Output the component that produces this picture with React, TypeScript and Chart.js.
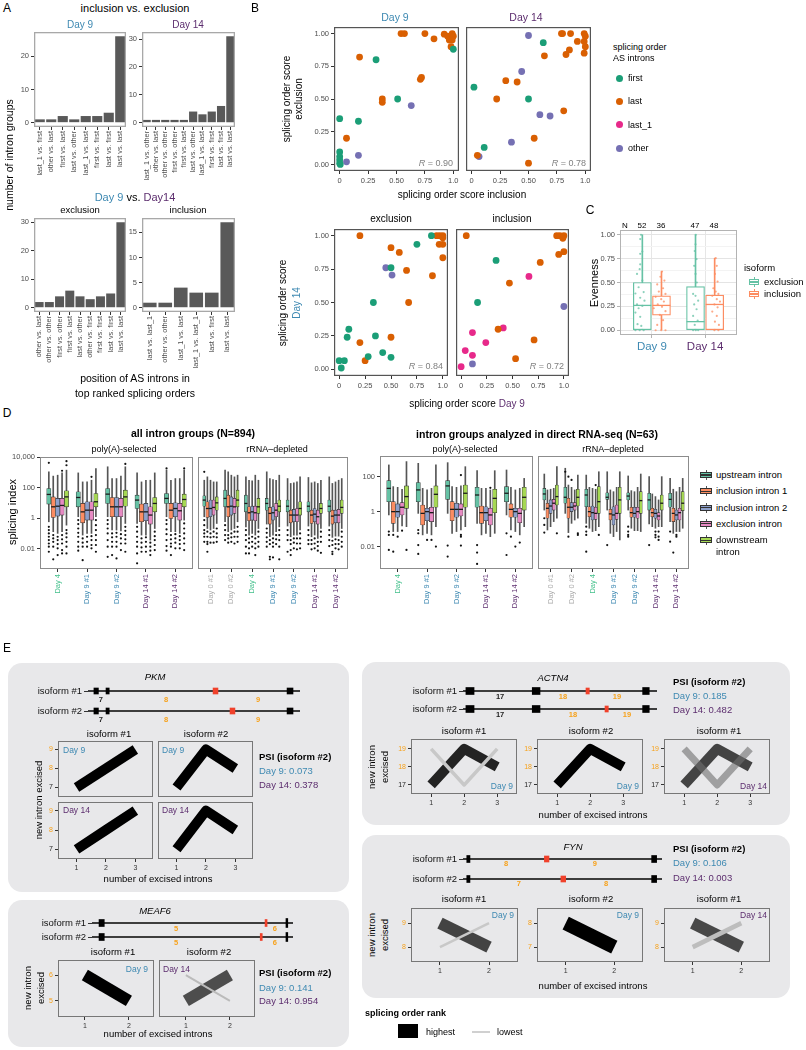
import React, { useEffect, useRef } from 'react';
import { Chart, registerables } from 'chart.js';

Chart.register(...registerables);

const FONT = '"Liberation Sans", Arial, Helvetica, sans-serif';
Chart.defaults.font.family = FONT;
Chart.defaults.color = '#4d4d4d';

const COL_D9 = '#3e89b2';
const COL_D14 = '#5c2d6e';
const COL_D4 = '#44c08c';
const COL_D0 = '#ababab';
const COL_NUM = '#f7a11a';
const COL_RED = '#f0412b';

// ================= Panel A =================
const aDay9Labels = ['last_1 vs. first', 'other vs. last', 'first vs. last', 'last vs. other', 'last_1 vs. last', 'first vs. first', 'last vs. first', 'last vs. last'];
const aDay9Counts = [1, 1, 2, 1, 2, 2, 3, 26];
const aDay14Labels = ['last_1 vs. other', 'other vs. last', 'other vs. other', 'first vs. other', 'first vs. last', 'last vs. other', 'last_1 vs. last', 'first vs. first', 'last vs. first', 'last vs. last'];
const aDay14Counts = [1, 1, 1, 1, 1, 4, 3, 4, 6, 31];
const aExclLabels = ['other vs. last', 'other vs. other', 'first vs. other', 'first vs. last', 'last vs. other', 'other vs. first', 'first vs. first', 'last vs. first', 'last vs. last'];
const aExclCounts = [2, 2, 4, 6, 4, 3, 4, 5, 30];
const aInclLabels = ['last vs. last_1', 'other vs. other', 'last_1 vs. last', 'last_1 vs. last_1', 'last vs. first', 'last vs. last'];
const aInclCounts = [1, 1, 4, 3, 3, 17];

// ================= Panel B =================
const bGroupNames = ['first', 'last', 'last_1', 'other'];
const bGroupColors = ['#1b9e77', '#d95f02', '#e7298a', '#7570b3'];
const bTicks = [0, 0.25, 0.5, 0.75, 1];
const bXTickLabels = ['0', '0.25', '0.50', '0.75', '1.0'];
const bYTickLabels = ['0.00', '0.25', '0.50', '0.75', '1.00'];

const bDay9First = [[1.0, 0.88], [0.32, 0.8], [0.51, 0.5], [0.165, 0.33], [0, 0.35], [0, 0.095], [0, 0.06], [0, 0.035], [0, 0.01], [0.005, 0.0]];
const bDay9Last = [[0.54, 1.0], [0.57, 1.0], [0.75, 1.0], [0.83, 0.96], [0.92, 0.995], [0.95, 0.98], [0.965, 0.95], [0.99, 1.0], [1.0, 0.98], [0.99, 0.95], [0.98, 0.9], [0.175, 0.82], [0.71, 0.65], [0.72, 0.665], [0.375, 0.5], [0.375, 0.475], [0.06, 0.2]];
const bDay9Other = [[0.63, 0.45], [0.165, 0.07], [0.06, 0.02]];

const bDay14First = [[0.63, 0.93], [0.02, 0.59], [0.5, 0.5], [0.11, 0.13]];
const bDay14Last = [[0.64, 0.83], [0.3, 0.64], [0.4, 0.63], [0.22, 0.5], [0.55, 0.2], [0.05, 0.07], [0.5, 0.01], [0.79, 1.0], [0.8, 1.0], [0.87, 1.0], [0.99, 1.0], [1.0, 0.98], [0.93, 0.94], [0.99, 0.94], [1.0, 0.9], [0.99, 0.85], [0.86, 0.875], [0.83, 0.84], [0.81, 0.41]];
const bDay14Other = [[0.5, 0.985], [0.44, 0.71], [0.6, 0.38], [0.69, 0.37], [0.35, 0.17], [0.065, 0.06]];

const bExclFirst = [[0.89, 1.0], [0.75, 0.935], [0.5, 0.76], [0.33, 0.5], [0.093, 0.3], [0.077, 0.24], [0.35, 0.25], [0.28, 0.095], [0.42, 0.125], [0.5, 0.09], [0, 0.065], [0.05, 0.065], [0.02, 0.01]];
const bExclLast = [[0.2, 1.0], [0.5, 0.91], [0.58, 0.875], [0.65, 0.74], [0.9, 0.7], [0.67, 0.5], [1.0, 0.835], [0.965, 0.935], [1.0, 0.935], [0.94, 1.0], [0.97, 1.0], [1.0, 1.0], [1.0, 0.985], [0.2, 0.2], [0.25, 0.065], [0.5, 0.24]];
const bExclOther = [[0.45, 0.76], [0.51, 0.705]];

const bInclFirst = [[0.34, 0.815], [0.16, 0.5]];
const bInclLast = [[0.05, 1.0], [0.77, 0.8], [0.47, 0.645], [0.36, 0.3], [0.71, 0.22], [0.53, 0.08], [0.93, 1.0], [0.96, 1.0], [1.0, 1.0], [0.99, 0.98], [0.95, 0.86], [1.0, 0.88]];
const bInclLast1 = [[0.66, 0.695], [0.41, 0.31], [0.11, 0.275], [0.24, 0.2], [0.04, 0.14], [0.11, 0.105], [0, 0.02]];
const bInclOther = [[0.11, 0.04], [1.0, 0.47]];

const bCorr = ['0.90', '0.78', '0.84', '0.72'];

// ================= Panel C =================
const cCategories = ['Day 9', 'Day 14'];
const cYTicks = [0, 0.25, 0.5, 0.75, 1];
const cYTickLabels = ['0.00', '0.25', '0.50', '0.75', '1.00'];
// [lower whisker, Q1, median, Q3, upper whisker] per day
const cExclStats = [[0, 0, 0.26, 0.5, 1.0], [0, 0, 0.09, 0.458, 1.0]];
const cInclStats = [[0, 0.157, 0.26, 0.36, 0.615], [0, 0, 0.27, 0.367, 0.755]];
const cExclN = [52, 47];
const cInclN = [36, 48];
// jittered points: [horizontal jitter, evenness]
const cExclJitterDay9 = [[-0.025, 1.0], [-0.04, 0.955], [0, 0.825], [-0.04, 0.8], [-0.04, 0.69], [-0.05, 0.64], [-0.1, 0.59], [0, 0.52], [-0.07, 0.45], [0.025, 0.4], [-0.13, 0.385], [-0.04, 0.34], [0.04, 0.31], [-0.1, 0.27], [0, 0.255], [-0.07, 0.23], [-0.13, 0.185], [-0.04, 0.14], [-0.09, 0.063], [-0.02, 0.045], [-0.05, 0], [-0.13, 0], [0.025, 0]];
const cExclJitterDay14 = [[0.005, 1.0], [0, 0.9], [-0.015, 0.83], [0.02, 0.745], [-0.025, 0.675], [0, 0.59], [0.025, 0.5], [-0.045, 0.38], [0, 0.36], [0.05, 0.31], [-0.025, 0.27], [0.02, 0.22], [-0.045, 0.15], [0.04, 0.1], [-0.015, 0.056], [0.005, 0], [-0.045, 0], [0.05, 0]];
const cInclJitterDay9 = [[0.01, 0.615], [-0.02, 0.56], [0.055, 0.52], [-0.08, 0.48], [0.03, 0.44], [-0.05, 0.405], [0.075, 0.38], [-0.11, 0.35], [-0.005, 0.325], [0.045, 0.3], [-0.07, 0.27], [0.01, 0.245], [-0.145, 0.23], [0.075, 0.2], [-0.03, 0.16], [0.03, 0.105], [-0.08, 0.056], [-0.005, 0], [-0.11, 0], [0.075, 0]];
const cInclJitterDay14 = [[0.02, 0.755], [0.04, 0.675], [0.005, 0.59], [0.055, 0.51], [-0.025, 0.44], [0.02, 0.405], [0.07, 0.38], [-0.045, 0.36], [0.04, 0.325], [0.1, 0.3], [-0.005, 0.27], [0.055, 0.24], [-0.045, 0.195], [0.04, 0.15], [0.005, 0.09], [0.08, 0.056], [-0.005, 0], [0.07, 0]];

// ================= Panel D =================
// values in log10(splicing index); per group: [lower whisker, Q1, median, Q3, upper whisker]
const dIntronTypes = ['upstream intron', 'inclusion intron 1', 'inclusion intron 2', 'exclusion intron', 'downstream intron'];
const dTypeColors = ['#66c2a5', '#fc8d62', '#8da0cb', '#e78ac3', '#a6d854'];
const dPolySamples = ['Day 4', 'Day 9 #1', 'Day 9 #2', 'Day 14 #1', 'Day 14 #2'];
const dRiboSamples = ['Day 0 #1', 'Day 0 #2', 'Day 4', 'Day 9 #1', 'Day 9 #2', 'Day 14 #1', 'Day 14 #2'];
const dYTicksAll = [-2, 0, 2, 4];
const dYLabelsAll = ['0.01', '1', '100', '10,000'];
const dYTicksDrs = [-2, 0, 2];
const dYLabelsDrs = ['0.01', '1', '100'];

const dAllPolyUp = [[-0.24, 0.92, 1.55, 1.94, 3.03], [0.09, 0.74, 1.35, 1.72, 2.96], [0.09, 0.96, 1.57, 1.94, 3.36], [-0.35, 0.63, 1.18, 1.5, 2.96], [0.09, 0.96, 1.29, 1.61, 3.14]];
const dAllPolyUpOut = [[3.62, -0.57, -0.78, -1.0, -1.22, -1.44, -1.66, -1.87, -2.2], [-0.13, -0.39, -0.68, -0.96, -1.22, -1.55, -1.87, -2.13], [-0.13, -0.39, -0.68, -1.0, -1.44, -1.87, -2.53], [-0.57, -0.89, -1.22, -1.55, -1.87, -2.31, -2.96], [3.25, -0.13, -0.39, -0.74, -1.05, -1.44, -1.83, -2.13]];
const dAllPolyIn1 = [[-0.89, 0.04, 0.74, 1.39, 2.75], [-1.11, -0.31, 0.41, 0.96, 2.37], [-0.78, 0.09, 0.74, 1.35, 2.59], [-1.11, -0.24, 0.41, 0.92, 2.37], [-0.89, -0.02, 0.52, 0.96, 2.48]];
const dAllPolyIn1Out = [[-1.11, -1.33, -1.55, -1.87, -2.7], [-1.33, -1.61, -1.87, -2.75], [-1.0, -1.26, -1.55, -1.87, -2.42], [-1.33, -1.61, -1.92, -2.2], [-1.11, -1.39, -1.66, -1.87, -2.42]];
const dAllPolyIn2 = [[-1.0, 0.13, 0.78, 1.29, 2.81], [-1.0, -0.13, 0.52, 1.07, 2.37], [-0.78, 0.09, 0.74, 1.35, 2.59], [-1.11, -0.17, 0.41, 0.96, 2.48], [-0.89, 0.09, 0.63, 1.0, 2.59]];
const dAllPolyIn2Out = [[-1.22, -1.44, -1.7, -1.98, -2.42], [-1.22, -1.55, -1.87], [-0.96, -1.22, -1.55, -1.87, -2.64], [-1.26, -1.55, -1.87, -2.2], [-1.05, -1.33, -1.61, -1.98]];
const dAllPolyEx = [[-0.89, 0.2, 0.83, 1.29, 2.96], [-1.0, -0.13, 0.52, 1.07, 2.48], [-0.83, 0.09, 0.74, 1.29, 2.75], [-1.44, -0.39, 0.2, 0.74, 2.48], [-1.0, -0.13, 0.48, 0.96, 2.59]];
const dAllPolyExOut = [[3.1, -1.11, -1.39, -1.66, -2.09, -2.31], [2.7, -1.18, -1.44, -1.76, -1.98], [-1.05, -1.33, -1.66, -2.09], [-1.61, -1.87, -2.13, -2.42], [-1.18, -1.44, -1.7, -1.98]];
const dAllPolyDn = [[-0.46, 0.74, 1.39, 1.79, 3.14], [0.09, 0.74, 1.07, 1.61, 3.25], [-0.35, 0.78, 1.39, 1.83, 3.36], [-0.68, 0.41, 0.96, 1.35, 2.96], [-0.13, 0.74, 1.22, 1.57, 3.14]];
const dAllPolyDnOut = [[3.73, 3.46, -0.78, -1.0, -1.26, -1.55, -1.87, -2.31], [-0.13, -0.46, -0.78, -1.11, -1.44, -1.76, -2.2], [3.55, -0.57, -0.83, -1.11, -1.39, -1.66, -2.2], [-0.89, -1.18, -1.44, -1.76, -2.09], [3.25, -0.35, -0.68, -1.0, -1.33, -1.66, -2.09]];

const dAllRiboUp = [[0.09, 0.78, 1.18, 1.46, 2.48], [-0.24, 0.74, 1.29, 1.83, 3.14], [-0.57, 0.41, 0.96, 1.5, 2.7], [-0.39, 0.52, 0.96, 1.29, 3.03], [-0.52, 0.41, 0.78, 1.18, 2.59], [-0.52, 0.41, 0.78, 1.07, 2.66], [-0.52, 0.41, 0.78, 1.18, 2.7]];
const dAllRiboUpOut = [[3.03, -0.13, -0.46, -0.78, -1.0, -1.22, -1.55], [-0.46, -0.78, -1.11, -1.44], [-0.78, -1.11, -1.44, -1.87, -2.31], [-0.68, -0.96, -1.26, -1.55, -1.87], [-0.78, -1.11, -1.44, -2.2], [-0.78, -1.11, -1.44, -1.7], [-0.78, -1.11, -1.44, -1.83]];
const dAllRiboIn1 = [[-0.68, 0.04, 0.63, 1.07, 2.7], [-0.89, 0.09, 0.74, 1.5, 3.03], [-1.11, -0.17, 0.35, 0.74, 2.48], [-1.22, -0.39, 0.31, 0.7, 2.59], [-1.22, -0.31, 0.2, 0.52, 2.27], [-1.22, -0.35, 0.2, 0.52, 2.31], [-1.26, -0.39, 0.13, 0.52, 2.27]];
const dAllRiboIn1Out = [[-0.89, -1.22, -1.55, -1.7, -2.2], [-1.11, -1.33, -1.61], [-1.33, -1.61, -1.98, -2.31], [-1.44, -1.7, -2.53, -2.7], [-1.44, -1.7, -2.09, -2.42], [-1.44, -1.7, -2.04], [-1.48, -1.76, -2.2, -2.35]];
const dAllRiboIn2 = [[-0.78, 0.09, 0.63, 1.18, 2.48], [-0.78, 0.2, 0.78, 1.39, 2.81], [-1.0, -0.13, 0.41, 0.78, 2.44], [-1.11, -0.13, 0.35, 0.74, 2.53], [-1.11, -0.24, 0.2, 0.57, 2.31], [-1.11, -0.24, 0.26, 0.63, 2.37], [-1.18, -0.31, 0.2, 0.52, 2.37]];
const dAllRiboIn2Out = [[-1.0, -1.26, -1.61], [-1.0, -1.26, -1.55], [-1.22, -1.55, -1.87], [-1.33, -1.61, -1.87, -2.57], [-1.33, -1.61, -1.98], [-1.33, -1.66, -1.98], [-1.39, -1.7, -1.98]];
const dAllRiboEx = [[-0.68, 0.2, 0.7, 1.18, 2.37], [-0.68, 0.31, 0.74, 1.29, 2.7], [-1.11, -0.17, 0.35, 0.78, 2.81], [-0.89, 0.09, 0.52, 0.96, 2.48], [-1.11, -0.24, 0.2, 0.63, 2.37], [-1.33, -0.39, 0.09, 0.52, 2.27], [-1.18, -0.31, 0.2, 0.57, 2.48]];
const dAllRiboExOut = [[-0.89, -1.22, -1.61], [-0.89, -1.22, -1.66], [-1.33, -1.66, -1.98, -2.42], [-1.11, -1.39, -1.7], [-1.33, -1.66, -2.04], [-1.55, -1.83, -2.13], [-1.44, -1.7, -2.04]];
const dAllRiboDn = [[-0.35, 0.52, 1.0, 1.39, 2.37], [-0.24, 0.74, 1.18, 1.83, 2.81], [-0.68, 0.31, 0.74, 1.29, 2.48], [-0.57, 0.41, 0.78, 1.18, 2.81], [-0.78, 0.2, 0.63, 1.07, 2.7], [-0.68, 0.31, 0.63, 0.96, 2.48], [-0.68, 0.31, 0.7, 1.18, 2.59]];
const dAllRiboDnOut = [[-0.68, -1.0, -1.26, -1.55], [-0.57, -0.89, -1.22, -1.55], [-0.89, -1.22, -1.55, -1.87], [-0.78, -1.11, -1.44, -1.87, -2.7], [-1.0, -1.33, -1.66, -1.98], [-0.89, -1.22, -1.55, -2.27], [-0.89, -1.22, -1.55, -1.87]];

const dDrsPolyUp = [[-0.17, 0.59, 1.35, 1.79, 2.69], [-0.08, 0.59, 1.26, 1.68, 2.78], [-0.08, 0.72, 1.49, 1.79, 2.82], [-0.65, 0.27, 0.97, 1.41, 2.36], [-0.17, 0.59, 1.07, 1.45, 2.4]];
const dDrsPolyUpOut = [[-1.12, -1.31, -2.17], [-1.03, -1.22, -1.89, -2.4], [-1.92, -2.55], [-1.89, -2.32, -2.97], [-1.22, -2.46]];
const dDrsPolyIn1 = [[-1.12, -0.65, 0.02, 0.59, 1.45], [-1.31, -0.74, -0.08, 0.4, 1.35], [-1.22, -0.5, 0.15, 0.59, 1.45], [-1.31, -0.65, -0.04, 0.34, 1.35], [-1.03, -0.3, 0.15, 0.46, 1.41]];
const dDrsPolyIn1Out = [[-1.31, -2.27], [], [], [], [-1.41]];
const dDrsPolyIn2 = [[-1.12, -0.3, 0.02, 0.46, 1.41], [-1.22, -0.5, 0.02, 0.21, 1.26], [-1.12, -0.3, 0.15, 0.5, 1.41], [-1.22, -0.5, -0.04, 0.3, 1.35], [-1.12, -0.3, 0.02, 0.21, 1.26]];
const dDrsPolyIn2Out = [[-1.41], [-1.6], [], [], [-1.98]];
const dDrsPolyEx = [[-0.8, -0.17, 0.27, 0.53, 1.3], [-1.31, -0.55, -0.04, 0.27, 1.35], [-1.03, -0.23, 0.15, 0.46, 1.49], [-1.41, -0.74, -0.17, 0.21, 1.26], [-1.31, -0.61, -0.08, 0.21, 1.35]];
const dDrsPolyExOut = [[-1.07], [-1.6], [2.11, -1.31, -1.41, -1.92], [1.38], [-1.75]];
const dDrsPolyDn = [[-0.84, 0.21, 0.88, 1.49, 2.88], [-0.84, 0.27, 1.01, 1.49, 2.69], [-0.84, 0.27, 1.07, 1.54, 2.59], [-1.22, -0.04, 0.78, 1.3, 2.36], [-0.84, 0.11, 0.84, 1.41, 1.92]];
const dDrsPolyDnOut = [[-2.17], [-1.98], [], [], []];

const dDrsRiboUp = [[0.11, 0.69, 1.03, 1.35, 2.17], [-0.08, 0.5, 0.84, 1.41, 2.5], [-0.65, 0.3, 0.97, 1.3, 2.11], [0.11, 0.72, 0.84, 1.1, 2.3], [0.11, 0.69, 0.91, 1.1, 2.06], [-0.69, 0.11, 0.69, 1.07, 2.02], [-0.55, 0.27, 0.72, 1.07, 1.92]];
const dDrsRiboUpOut = [[-0.36, -0.74, -1.18], [2.3], [-0.84, -1.12, -1.31, -2.27], [-1.89], [-0.84, -1.12, -1.31, -1.41], [-1.89], [-1.12, -1.7]];
const dDrsRiboIn1 = [[-1.03, -0.36, 0.21, 0.5, 1.26], [-1.18, -0.36, 0.27, 0.78, 1.54], [-0.93, -0.27, 0.02, 0.3, 1.41], [-1.22, -0.46, -0.11, 0.15, 1.26], [-0.93, -0.3, -0.04, 0.27, 1.22], [-0.84, -0.27, -0.04, 0.21, 1.03], [-1.22, -0.55, -0.08, 0.21, 1.3]];
const dDrsRiboIn1Out = [[], [2.02, -1.41], [], [], [], [], [-2.32]];
const dDrsRiboIn2 = [[-0.84, -0.08, 0.34, 0.69, 1.3], [-0.65, 0.02, 0.27, 0.53, 1.41], [-1.12, -0.46, -0.04, 0.34, 1.35], [-1.41, -0.74, -0.17, 0.3, 1.16], [-1.07, -0.3, -0.08, 0.27, 1.16], [-0.93, -0.36, -0.08, 0.15, 0.88], [-1.12, -0.46, -0.17, 0.11, 1.16]];
const dDrsRiboIn2Out = [[], [1.83], [], [], [], [-1.12, -1.31, -1.45], [-1.31, -1.41]];
const dDrsRiboEx = [[-0.55, 0.11, 0.5, 0.72, 1.35], [-0.46, 0.11, 0.34, 0.53, 1.26], [-1.07, -0.42, -0.08, 0.27, 1.3], [-1.12, -0.42, -0.08, 0.4, 1.41], [-1.07, -0.36, 0.02, 0.27, 1.41], [-0.84, -0.46, -0.23, -0.04, 0.69], [-1.12, -0.46, -0.04, 0.21, 1.41]];
const dDrsRiboExOut = [[], [], [1.54], [], [], [-1.12, -1.41, -1.6], []];
const dDrsRiboDn = [[-0.36, 0.4, 0.88, 1.54, 2.59], [-0.36, 0.34, 0.84, 1.3, 2.11], [-0.84, -0.08, 0.59, 1.45, 2.3], [-1.6, -0.08, 0.69, 1.41, 2.3], [-1.12, -0.08, 0.65, 1.16, 2.17], [-0.84, 0.11, 0.5, 0.97, 2.02], [-0.93, 0.08, 0.5, 1.16, 1.92]];
const dDrsRiboDnOut = [[-1.22], [-1.22, -1.31], [-1.31], [], [], [], []];

// ================= Panel E =================
const isoRows = ['isoform #1', 'isoform #2'];
const geneSpan = [0, 100];
// exon coordinates (relative gene units)
const pkmExons = [[2.8, 4.9], [8.5, 10.0], [93.9, 96.7]];
const pkmAltExon = [[59.0, 61.3], [67.0, 69.3]];
const pkmIntronLabels = [[6.1, 0, '7'], [36.8, 0, '8'], [80.2, 0, '9'], [6.1, 1, '7'], [36.8, 1, '8'], [80.2, 1, '9']];
const actn4Exons = [[1.5, 5.7], [35.7, 39.7], [92.6, 96.0]];
const actn4AltExon = [[63.4, 65.1], [73.2, 74.9]];
const actn4IntronLabels = [[19.1, 0, '17'], [51.5, 0, '18'], [79.4, 0, '19'], [19.1, 1, '17'], [56.7, 1, '18'], [84.5, 1, '19']];
const fynExons = [[1.9, 3.5], [94.8, 97.3]];
const fynAltExon = [[40.9, 43.2], [49.2, 51.6]];
const fynIntronLabels = [[21.6, 0, '8'], [66.3, 0, '9'], [28.1, 1, '7'], [71.9, 1, '8']];
const meaf6Exons = [[3.5, 6.1]];
const meaf6EndExon = [[96.5, 97.4]];
const meaf6AltExon = [[86.1, 87.1], [83.7, 84.7]];
const meaf6IntronLabels = [[41.8, 0, '5'], [91.0, 0, '6'], [41.8, 1, '5'], [91.0, 1, '6']];

// splicing order paths: [number of excised introns, new intron excised]
const pkmIso1Path = [[1, 7], [2, 8], [3, 9]];
const pkmIso2Path = [[1, 7], [2, 9], [3, 8]];
const actn4Iso1Top = [[1, 17], [2, 19], [3, 18]];
const actn4Iso1Low = [[1, 19], [2, 17], [3, 19]];
const actn4Iso2Top = [[1, 17], [2, 19], [3, 18]];
const fynIso1Top = [[1, 9], [2, 8]];
const fynIso1Low = [[1, 8], [2, 9]];
const fynIso2Top = [[1, 8], [2, 7]];
const meaf6Iso1Top = [[1, 6], [2, 5]];
const meaf6Iso2Top = [[1, 5], [2, 6]];
const meaf6Iso2Low = [[1, 6], [2, 5]];

const pkmPsi = [0.073, 0.378];
const actn4Psi = [0.185, 0.482];
const fynPsi = [0.106, 0.003];
const meaf6Psi = [0.141, 0.954];

// ================= helpers =================
function sampleColor(name: string) {
  if (name.startsWith('Day 0')) return COL_D0;
  if (name.startsWith('Day 4')) return COL_D4;
  if (name.startsWith('Day 9')) return COL_D9;
  return COL_D14;
}

function frame(color: string, lw = 1) {
  return {
    id: 'frame',
    afterDraw(chart: any) {
      const { left, top, width, height } = chart.chartArea;
      const ctx = chart.ctx;
      ctx.save();
      ctx.strokeStyle = color;
      ctx.lineWidth = lw;
      ctx.strokeRect(left + lw / 2, top + lw / 2, width - lw, height - lw);
      ctx.restore();
    },
  };
}

function medianPlugin(color: string | null, lw: number) {
  return {
    id: 'median',
    afterDatasetsDraw(chart: any) {
      const ctx = chart.ctx;
      const ys = chart.scales.y;
      chart.data.datasets.forEach((ds: any, i: number) => {
        if (!ds.med) return;
        const meta = chart.getDatasetMeta(i);
        meta.data.forEach((el: any, j: number) => {
          const y = ys.getPixelForValue(ds.med[j]);
          ctx.save();
          ctx.strokeStyle = color || ds.borderColor;
          ctx.lineWidth = lw;
          ctx.beginPath();
          ctx.moveTo(el.x - el.width / 2, y);
          ctx.lineTo(el.x + el.width / 2, y);
          ctx.stroke();
          ctx.restore();
        });
      });
    },
  };
}

function intronLabels(items: any[], hi: string[], dy: number) {
  return {
    id: 'intronLabels',
    afterDatasetsDraw(chart: any) {
      const ctx = chart.ctx;
      const xs = chart.scales.x;
      const ys = chart.scales.y;
      ctx.save();
      ctx.font = `bold 7.5px ${FONT}`;
      ctx.textAlign = 'center';
      ctx.textBaseline = 'middle';
      items.forEach(([pos, row, txt]: any) => {
        ctx.fillStyle = hi.includes(txt) ? COL_NUM : '#222';
        ctx.fillText(txt, xs.getPixelForValue(pos), ys.getPixelForValue(row) + dy);
      });
      ctx.restore();
    },
  };
}

function linAxis(min: number, max: number, vals: number[], labels: string[], o: any = {}) {
  const show = o.show !== false;
  const marks = o.marks !== false;
  return {
    type: 'linear',
    min,
    max,
    offset: false,
    afterBuildTicks: (s: any) => {
      s.ticks = vals.map((v) => ({ value: v }));
    },
    grid: o.grid ?? { display: marks, offset: false, drawOnChartArea: false, drawTicks: true, tickLength: 3, color: '#333', lineWidth: 1 },
    border: { display: false },
    ticks: {
      display: show,
      autoSkip: false,
      callback: (_v: any, i: number) => labels[i],
      font: { family: FONT, size: o.size ?? 7.5 },
      color: o.color ?? '#4d4d4d',
      padding: o.pad ?? 2,
      minRotation: o.rot ?? 0,
      maxRotation: o.rot ?? 0,
    },
  };
}

function Plot({ a, make }: any) {
  const ref = useRef<HTMLCanvasElement | null>(null);
  const t = a.t ?? 6;
  const r = a.r ?? 8;
  const W = a.l + a.w + r;
  const H = t + a.h + a.b;
  useEffect(() => {
    const cfg = make();
    const o = cfg.options || (cfg.options = {});
    Object.assign(o, { responsive: false, maintainAspectRatio: false, animation: false, devicePixelRatio: 1, events: [] });
    o.layout = { padding: { top: t, right: r, left: 0, bottom: 0 } };
    o.plugins = { ...(o.plugins || {}), legend: { display: false }, tooltip: { enabled: false } };
    o.scales.x.afterFit = (s: any) => {
      s.height = a.b;
      s.paddingLeft = 0;
      s.paddingRight = 0;
    };
    o.scales.y.afterFit = (s: any) => {
      s.width = a.l;
      s.paddingTop = 0;
      s.paddingBottom = 0;
    };
    const chart = new Chart(ref.current as HTMLCanvasElement, cfg);
    return () => chart.destroy();
  }, []);
  return <canvas ref={ref} width={W} height={H} style={{ position: 'absolute', left: a.x - a.l, top: a.y - t, width: W, height: H }} />;
}

function Tx(p: any) {
  const { x, y, s = 9, c = '#000', w = 400, it = false, a = 'c', rot = false, children } = p;
  const tx = rot ? '-50%' : a === 'c' ? '-50%' : a === 'r' ? '-100%' : '0%';
  return (
    <div
      style={{
        position: 'absolute',
        left: x,
        top: y,
        transform: `translate(${tx}, -50%)${rot ? ' rotate(-90deg)' : ''}`,
        fontSize: s,
        color: c,
        fontWeight: w,
        fontStyle: it ? 'italic' : 'normal',
        whiteSpace: 'nowrap',
        lineHeight: 1,
        fontFamily: FONT,
      }}
    >
      {children}
    </div>
  );
}

// ----- chart configs -----
function aBarCfg(labels: string[], counts: number[], min: number, max: number, ticks: number[]) {
  return {
    type: 'bar',
    data: { labels, datasets: [{ data: counts, backgroundColor: '#595959', categoryPercentage: 1, barPercentage: 0.88 }] },
    options: {
      scales: {
        x: {
          type: 'category',
          offset: true,
          grid: { display: true, offset: false, drawOnChartArea: false, tickLength: 3, color: '#333' },
          border: { display: false },
          ticks: { autoSkip: false, minRotation: 90, maxRotation: 90, font: { family: FONT, size: 7.3 }, color: '#4d4d4d', padding: 1 },
        },
        y: linAxis(min, max, ticks, ticks.map(String), {}),
      },
    },
    plugins: [frame('#a8a8a8', 1.3)],
  };
}

function bCfg(groups: any[], showY: boolean) {
  return {
    type: 'scatter',
    data: {
      datasets: groups.map((g: any) => ({
        data: g.pts.map(([x, y]: number[]) => ({ x, y })),
        backgroundColor: bGroupColors[g.k],
        pointRadius: 3.4,
        borderWidth: 0,
      })),
    },
    options: {
      scales: {
        x: linAxis(-0.05, 1.05, bTicks, bXTickLabels, {}),
        y: linAxis(-0.05, 1.05, bTicks, bYTickLabels, { show: showY, marks: showY }),
      },
    },
    plugins: [frame('#555', 1.2)],
  };
}

function cCfg() {
  const groups = [
    { st: cExclStats, jit: [cExclJitterDay9, cExclJitterDay14], color: '#66c2a5', rgba: 'rgba(102,194,165,0.75)', dodge: -0.18 },
    { st: cInclStats, jit: [cInclJitterDay9, cInclJitterDay14], color: '#fc8d62', rgba: 'rgba(252,141,98,0.75)', dodge: 0.18 },
  ];
  const ds: any[] = [];
  groups.forEach((g) => {
    ds.push({ type: 'bar', data: g.st.map((s, i) => ({ x: i + 1 + g.dodge, y: [s[0], s[4]] })), backgroundColor: g.color, barThickness: 1, grouped: false, order: 3 });
    ds.push({ type: 'bar', data: g.st.map((s, i) => ({ x: i + 1 + g.dodge, y: [s[1], s[3]] })), backgroundColor: '#ffffff', borderColor: g.color, borderWidth: 1.2, borderSkipped: false, barThickness: 18, grouped: false, order: 2, med: g.st.map((s) => s[2]) });
    ds.push({ type: 'scatter', data: g.jit.flatMap((arr, i) => arr.map(([dx, v]) => ({ x: i + 1 + g.dodge + dx, y: v }))), backgroundColor: g.rgba, pointRadius: 1.1, borderWidth: 0, order: 1 });
  });
  const yVals: number[] = [];
  const yLabels: string[] = [];
  cYTicks.forEach((v, i) => {
    yVals.push(v);
    yLabels.push(cYTickLabels[i]);
    if (i < cYTicks.length - 1) {
      yVals.push((v + cYTicks[i + 1]) / 2);
      yLabels.push('');
    }
  });
  return {
    type: 'bar',
    data: { datasets: ds },
    options: {
      scales: {
        x: linAxis(0.4, 2.6, [1, 2], cCategories, {
          size: 11.5,
          color: (c: any) => (c.index === 0 ? COL_D9 : COL_D14),
          grid: { display: true, offset: false, drawOnChartArea: true, color: '#e6e6e6', tickColor: '#b3b3b3', tickLength: 3 },
        }),
        y: linAxis(-0.05, 1.05, yVals, yLabels, {
          grid: {
            display: true,
            offset: false,
            drawOnChartArea: true,
            tickLength: 3,
            color: (c: any) => (c.index % 2 ? '#f3f3f3' : '#e4e4e4'),
            tickColor: (c: any) => (c.index % 2 ? 'rgba(0,0,0,0)' : '#b3b3b3'),
          },
        }),
      },
    },
    plugins: [medianPlugin(null, 1.3), frame('#b3b3b3', 1)],
  };
}

const dDodge = [-0.3, -0.15, 0, 0.15, 0.3];
function dCfg(stats: number[][][], outs: number[][][], samples: string[], yMin: number, yMax: number, yVals: number[], yLabels: string[], showY: boolean, boxPx: number) {
  const ds: any[] = [];
  stats.forEach((st, t) => {
    const xs = st.map((_, g) => g + 1 + dDodge[t]);
    ds.push({ type: 'bar', data: st.map((s, g) => ({ x: xs[g], y: [s[0], s[4]] })), backgroundColor: '#555', barThickness: 1, grouped: false, order: 3 });
    ds.push({ type: 'bar', data: st.map((s, g) => ({ x: xs[g], y: [s[1], s[3]] })), backgroundColor: dTypeColors[t], borderColor: '#333', borderWidth: 0.6, borderSkipped: false, barThickness: boxPx, grouped: false, order: 2, med: st.map((s) => s[2]) });
    ds.push({ type: 'scatter', data: outs[t].flatMap((arr, g) => arr.map((v) => ({ x: xs[g], y: v }))), backgroundColor: '#111', pointRadius: 1.1, borderWidth: 0, order: 1 });
  });
  const n = samples.length;
  return {
    type: 'bar',
    data: { datasets: ds },
    options: {
      scales: {
        x: linAxis(0.4, n + 0.6, samples.map((_, i) => i + 1), samples, { rot: 90, size: 7.5, color: (c: any) => sampleColor(samples[c.index]) }),
        y: linAxis(yMin, yMax, yVals, yLabels, { show: showY, marks: showY }),
      },
    },
    plugins: [medianPlugin('#1a1a1a', 1.3), frame('#8c8c8c', 1)],
  };
}

function geneCfg(tracks: any[], introns: any[], hi: string[], dy: number) {
  return {
    type: 'bar',
    data: {
      labels: isoRows,
      datasets: tracks.map((t, i) => ({ data: t.data, backgroundColor: t.color, barThickness: t.h, grouped: false, order: tracks.length - i })),
    },
    options: {
      indexAxis: 'y',
      scales: {
        x: { type: 'linear', min: geneSpan[0], max: geneSpan[1], offset: false, grid: { display: false }, border: { display: false }, ticks: { display: false } },
        y: {
          type: 'category',
          offset: true,
          grid: { display: true, offset: false, drawOnChartArea: false, tickLength: 4, color: '#333' },
          border: { display: false },
          ticks: { autoSkip: false, color: '#111', font: { family: FONT, size: 9.5 }, padding: 2 },
        },
      },
    },
    plugins: [intronLabels(introns, hi, dy)],
  };
}

function geneTracks(exons: number[][], alt: number[][], exH: number, altH: number, extra: any[] = []) {
  return [
    { data: isoRows.map(() => geneSpan), color: '#3d3d3d', h: 1.3 },
    ...exons.map((ex) => ({ data: isoRows.map(() => ex), color: '#000', h: exH })),
    ...extra,
    { data: alt, color: COL_RED, h: altH },
  ];
}

function pathCfg(lines: any[], xr: number[], yr: number[], xt: number[], yt: number[], yCols: string[], showX: boolean, showY: boolean) {
  return {
    type: 'line',
    data: {
      datasets: lines.map((l) => ({
        data: l.pts.map(([x, y]: number[]) => ({ x, y })),
        borderColor: l.color,
        borderWidth: l.w,
        pointRadius: 0,
        borderCapStyle: 'butt',
        borderJoinStyle: 'round',
        tension: 0,
        fill: false,
        clip: 0,
      })),
    },
    options: {
      scales: {
        x: linAxis(xr[0], xr[1], xt, xt.map(String), { show: showX, marks: showX, color: '#333', size: 7 }),
        y: linAxis(yr[0], yr[1], yt, yt.map(String), { show: showY, marks: showY, color: (c: any) => yCols[c.index], size: 7 }),
      },
    },
    plugins: [frame('#777', 1)],
  };
}

const card = (x: number, y: number, w: number, h: number): any => ({ position: 'absolute', left: x, top: y, width: w, height: h, background: '#e8e8ea', borderRadius: 14 });

function Dot({ x, y, c }: any) {
  return <div style={{ position: 'absolute', left: x - 3.5, top: y - 3.5, width: 7, height: 7, borderRadius: '50%', background: c }} />;
}

function BoxKey({ x, y, w, h, fill, stroke, whisk }: any) {
  return (
    <div style={{ position: 'absolute', left: x, top: y - h / 2, width: w, height: h }}>
      <div style={{ position: 'absolute', left: w / 2 - 0.5, top: 0, width: 1, height: h, background: whisk }} />
      <div style={{ position: 'absolute', left: 0, top: h * 0.2, width: w, height: h * 0.6, boxSizing: 'border-box', border: `1px solid ${stroke}`, background: fill }} />
      <div style={{ position: 'absolute', left: 0, top: h / 2 - 0.6, width: w, height: 1.2, background: stroke }} />
    </div>
  );
}

const O = COL_NUM;
const K = '#222';

export default function App() {
  const aArea = (x: number, y: number, w: number, h: number, l: number, b: number) => ({ x, y, w, h, l, b });
  return (
    <div style={{ position: 'absolute', left: 0, top: 0, width: 806, height: 1050, background: '#fff', overflow: 'hidden', fontFamily: FONT }}>
      {/* E cards */}
      <div style={card(8, 663, 341, 229)} />
      <div style={card(8, 900, 341, 147)} />
      <div style={card(362, 662, 428, 163)} />
      <div style={card(362, 835, 428, 163)} />

      {/* ===== A ===== */}
      <Plot a={aArea(34, 32, 92, 95, 22, 66)} make={() => aBarCfg(aDay9Labels, aDay9Counts, -1.3, 27.3, [0, 10, 20])} />
      <Plot a={aArea(142, 32, 93, 95, 16, 66)} make={() => aBarCfg(aDay14Labels, aDay14Counts, -1.55, 32.55, [0, 10, 20, 30])} />
      <Plot a={aArea(34, 218, 92, 94, 22, 58)} make={() => aBarCfg(aExclLabels, aExclCounts, -1.5, 31.5, [0, 10, 20, 30])} />
      <Plot a={aArea(142, 218, 93, 94, 16, 58)} make={() => aBarCfg(aInclLabels, aInclCounts, -0.85, 17.85, [0, 5, 10, 15])} />

      {/* ===== B ===== */}
      <Plot a={{ x: 334, y: 27, w: 125, h: 144, l: 38, b: 14 }} make={() => bCfg([{ k: 0, pts: bDay9First }, { k: 1, pts: bDay9Last }, { k: 3, pts: bDay9Other }], true)} />
      <Plot a={{ x: 466, y: 27, w: 125, h: 144, l: 4, b: 14 }} make={() => bCfg([{ k: 0, pts: bDay14First }, { k: 1, pts: bDay14Last }, { k: 3, pts: bDay14Other }], false)} />
      <Plot a={{ x: 334, y: 229, w: 114, h: 147, l: 38, b: 14 }} make={() => bCfg([{ k: 0, pts: bExclFirst }, { k: 1, pts: bExclLast }, { k: 3, pts: bExclOther }], true)} />
      <Plot a={{ x: 456, y: 229, w: 113, h: 147, l: 4, b: 14 }} make={() => bCfg([{ k: 0, pts: bInclFirst }, { k: 1, pts: bInclLast }, { k: 2, pts: bInclLast1 }, { k: 3, pts: bInclOther }], false)} />

      {/* ===== C ===== */}
      <Plot a={{ x: 620, y: 230, w: 117, h: 105, l: 30, b: 22 }} make={() => cCfg()} />

      {/* ===== D ===== */}
      <Plot a={{ x: 40, y: 457, w: 153, h: 112, l: 34, b: 42 }} make={() => dCfg([dAllPolyUp, dAllPolyIn1, dAllPolyIn2, dAllPolyEx, dAllPolyDn], [dAllPolyUpOut, dAllPolyIn1Out, dAllPolyIn2Out, dAllPolyExOut, dAllPolyDnOut], dPolySamples, -3.33, 4.0, dYTicksAll, dYLabelsAll, true, 4.2)} />
      <Plot a={{ x: 198, y: 457, w: 150, h: 112, l: 4, b: 42 }} make={() => dCfg([dAllRiboUp, dAllRiboIn1, dAllRiboIn2, dAllRiboEx, dAllRiboDn], [dAllRiboUpOut, dAllRiboIn1Out, dAllRiboIn2Out, dAllRiboExOut, dAllRiboDnOut], dRiboSamples, -3.33, 4.0, dYTicksAll, dYLabelsAll, false, 3)} />
      <Plot a={{ x: 380, y: 456, w: 153, h: 113, l: 30, b: 42 }} make={() => dCfg([dDrsPolyUp, dDrsPolyIn1, dDrsPolyIn2, dDrsPolyEx, dDrsPolyDn], [dDrsPolyUpOut, dDrsPolyIn1Out, dDrsPolyIn2Out, dDrsPolyExOut, dDrsPolyDnOut], dPolySamples, -3.26, 3.2, dYTicksDrs, dYLabelsDrs, true, 4.2)} />
      <Plot a={{ x: 538, y: 456, w: 151, h: 113, l: 4, b: 42 }} make={() => dCfg([dDrsRiboUp, dDrsRiboIn1, dDrsRiboIn2, dDrsRiboEx, dDrsRiboDn], [dDrsRiboUpOut, dDrsRiboIn1Out, dDrsRiboIn2Out, dDrsRiboExOut, dDrsRiboDnOut], dRiboSamples, -3.26, 3.2, dYTicksDrs, dYLabelsDrs, false, 3)} />

      {/* ===== E: PKM ===== */}
      <Plot a={{ x: 88, y: 681, w: 212, h: 40, l: 62, b: 12, t: 2 }} make={() => geneCfg(geneTracks(pkmExons, pkmAltExon, 6, 6), pkmIntronLabels, ['8', '9'], 9)} />
      <Plot a={{ x: 58, y: 741, w: 95, h: 56, l: 12, b: 2 }} make={() => pathCfg([{ pts: pkmIso1Path, color: '#000', w: 10 }], [0.37, 3.6], [6.5, 9.45], [1, 2, 3], [7, 8, 9], [K, O, O], false, true)} />
      <Plot a={{ x: 158, y: 741, w: 95, h: 56, l: 2, b: 2 }} make={() => pathCfg([{ pts: pkmIso2Path, color: '#000', w: 10 }], [0.37, 3.6], [6.5, 9.45], [1, 2, 3], [7, 8, 9], [K, O, O], false, false)} />
      <Plot a={{ x: 58, y: 802, w: 95, h: 57, l: 12, b: 14 }} make={() => pathCfg([{ pts: pkmIso1Path, color: '#000', w: 10 }], [0.37, 3.6], [6.5, 9.45], [1, 2, 3], [7, 8, 9], [K, O, O], true, true)} />
      <Plot a={{ x: 158, y: 802, w: 95, h: 57, l: 2, b: 14 }} make={() => pathCfg([{ pts: pkmIso2Path, color: '#000', w: 10 }], [0.37, 3.6], [6.5, 9.45], [1, 2, 3], [7, 8, 9], [K, O, O], true, false)} />

      {/* ===== E: ACTN4 ===== */}
      <Plot a={{ x: 463, y: 682, w: 194, h: 36, l: 62, b: 12, t: 2 }} make={() => geneCfg(geneTracks(actn4Exons, actn4AltExon, 7, 6), actn4IntronLabels, ['18', '19'], 6)} />
      <Plot a={{ x: 411, y: 739, w: 106, h: 55, l: 16, b: 14 }} make={() => pathCfg([{ pts: actn4Iso1Low, color: '#c8c8c8', w: 3.5 }, { pts: actn4Iso1Top, color: 'rgba(17,17,17,0.92)', w: 10 }], [0.39, 3.6], [16.5, 19.55], [1, 2, 3], [17, 18, 19], [K, O, O], true, true)} />
      <Plot a={{ x: 537, y: 739, w: 106, h: 55, l: 16, b: 14 }} make={() => pathCfg([{ pts: actn4Iso2Top, color: '#000', w: 10 }], [0.39, 3.6], [16.5, 19.55], [1, 2, 3], [17, 18, 19], [K, O, O], true, true)} />
      <Plot a={{ x: 664, y: 739, w: 106, h: 55, l: 16, b: 14 }} make={() => pathCfg([{ pts: actn4Iso1Low, color: 'rgba(110,110,110,0.6)', w: 7 }, { pts: actn4Iso1Top, color: 'rgba(30,30,30,0.82)', w: 10 }], [0.39, 3.6], [16.5, 19.55], [1, 2, 3], [17, 18, 19], [K, O, O], true, true)} />

      {/* ===== E: FYN ===== */}
      <Plot a={{ x: 463, y: 849, w: 199, h: 40, l: 62, b: 10, t: 2 }} make={() => geneCfg(geneTracks(fynExons, fynAltExon, 7, 6), fynIntronLabels, ['7', '8', '9'], 5)} />
      <Plot a={{ x: 411, y: 908, w: 107, h: 54, l: 14, b: 14 }} make={() => pathCfg([{ pts: fynIso1Low, color: '#c8c8c8', w: 2.5 }, { pts: fynIso1Top, color: 'rgba(40,40,40,0.86)', w: 12 }], [0.41, 2.59], [7.38, 9.63], [1, 2], [8, 9], [O, O], true, true)} />
      <Plot a={{ x: 537, y: 908, w: 106, h: 54, l: 14, b: 14 }} make={() => pathCfg([{ pts: fynIso2Top, color: '#000', w: 14 }], [0.41, 2.59], [6.38, 8.63], [1, 2], [7, 8], [O, O], true, true)} />
      <Plot a={{ x: 664, y: 908, w: 106, h: 54, l: 14, b: 14 }} make={() => pathCfg([{ pts: fynIso1Low, color: '#bdbdbd', w: 4.5 }, { pts: fynIso1Top, color: 'rgba(45,45,45,0.86)', w: 12 }], [0.41, 2.59], [7.38, 9.63], [1, 2], [8, 9], [O, O], true, true)} />

      {/* ===== E: MEAF6 ===== */}
      <Plot a={{ x: 92, y: 916, w: 201, h: 28, l: 62, b: 10, t: 2 }} make={() => geneCfg(geneTracks(meaf6Exons, meaf6AltExon, 7, 7, [{ data: isoRows.map(() => meaf6EndExon[0]), color: '#000', h: 9 }]), meaf6IntronLabels, ['5', '6'], 6)} />
      <Plot a={{ x: 58, y: 960, w: 96, h: 57, l: 12, b: 14 }} make={() => pathCfg([{ pts: meaf6Iso1Top, color: '#000', w: 12 }], [0.39, 2.57], [4.38, 6.58], [1, 2], [5, 6], [O, O], true, true)} />
      <Plot a={{ x: 159, y: 960, w: 96, h: 57, l: 2, b: 14 }} make={() => pathCfg([{ pts: meaf6Iso2Low, color: '#bbbbbb', w: 2 }, { pts: meaf6Iso2Top, color: 'rgba(60,60,60,0.9)', w: 12 }], [0.39, 2.57], [4.38, 6.58], [1, 2], [5, 6], [O, O], true, false)} />

      {/* ===== Text: A ===== */}
      <Tx x={7} y={8} s={12}>A</Tx>
      <Tx x={135} y={8} s={11}>inclusion vs. exclusion</Tx>
      <Tx x={80} y={25} s={10} c={COL_D9}>Day 9</Tx>
      <Tx x={188} y={25} s={10} c={COL_D14}>Day 14</Tx>
      <Tx x={9} y={155} s={10.5} rot>number of intron groups</Tx>
      <Tx x={135} y={197} s={11}>
        <span style={{ color: COL_D9 }}>Day 9</span> vs. <span style={{ color: COL_D14 }}>Day14</span>
      </Tx>
      <Tx x={80} y={210} s={9.5}>exclusion</Tx>
      <Tx x={188} y={210} s={9.5}>inclusion</Tx>
      <Tx x={135} y={378} s={10.5}>position of AS introns in</Tx>
      <Tx x={135} y={393} s={10.5}>top ranked splicing orders</Tx>

      {/* ===== Text: B ===== */}
      <Tx x={255} y={8} s={12}>B</Tx>
      <Tx x={395} y={17} s={10.5} c={COL_D9}>Day 9</Tx>
      <Tx x={526} y={17} s={10.5} c={COL_D14}>Day 14</Tx>
      <Tx x={287} y={99} s={10} rot>splicing order score</Tx>
      <Tx x={299} y={99} s={10} rot>exclusion</Tx>
      <Tx x={462} y={195} s={10}>splicing order score inclusion</Tx>
      <Tx x={453} y={163} s={9} c="#808080" a="r"><i>R</i> = {bCorr[0]}</Tx>
      <Tx x={586} y={163} s={9} c="#808080" a="r"><i>R</i> = {bCorr[1]}</Tx>
      <Tx x={613} y={47} s={9} a="l">splicing order</Tx>
      <Tx x={613} y={58} s={9} a="l">AS introns</Tx>
      {bGroupNames.map((n, i) => (
        <React.Fragment key={n}>
          <Dot x={619} y={78 + i * 23.4} c={bGroupColors[i]} />
          <Tx x={628} y={78 + i * 23.4} s={9} a="l">{n}</Tx>
        </React.Fragment>
      ))}
      <Tx x={391} y={219} s={10}>exclusion</Tx>
      <Tx x={512} y={219} s={10}>inclusion</Tx>
      <Tx x={283} y={303} s={10} rot>splicing order score</Tx>
      <Tx x={297} y={303} s={10} rot c={COL_D9}>Day 14</Tx>
      <Tx x={467} y={404} s={10}>
        splicing order score <span style={{ color: COL_D14 }}>Day 9</span>
      </Tx>
      <Tx x={443} y={366} s={9} c="#808080" a="r"><i>R</i> = {bCorr[2]}</Tx>
      <Tx x={564} y={366} s={9} c="#808080" a="r"><i>R</i> = {bCorr[3]}</Tx>

      {/* ===== Text: C ===== */}
      <Tx x={590} y={210} s={12}>C</Tx>
      <Tx x={625} y={226} s={8}>N</Tx>
      <Tx x={642} y={226} s={8}>{cExclN[0]}</Tx>
      <Tx x={661} y={226} s={8}>{cInclN[0]}</Tx>
      <Tx x={695} y={226} s={8}>{cExclN[1]}</Tx>
      <Tx x={714} y={226} s={8}>{cInclN[1]}</Tx>
      <Tx x={594} y={283} s={11} rot>Evenness</Tx>
      <Tx x={744} y={268} s={9.5} a="l">isoform</Tx>
      <BoxKey x={749} y={282} w={10} h={10} fill="#fff" stroke="#66c2a5" whisk="#66c2a5" />
      <Tx x={764} y={282} s={9.5} a="l">exclusion</Tx>
      <BoxKey x={749} y={294} w={10} h={10} fill="#fff" stroke="#fc8d62" whisk="#fc8d62" />
      <Tx x={764} y={294} s={9.5} a="l">inclusion</Tx>

      {/* ===== Text: D ===== */}
      <Tx x={7} y={413} s={12}>D</Tx>
      <Tx x={193} y={433} s={10.5} w={700}>all intron groups (N=894)</Tx>
      <Tx x={124} y={449} s={9}>poly(A)-selected</Tx>
      <Tx x={277} y={449} s={9}>rRNA–depleted</Tx>
      <Tx x={12} y={512} s={11} rot>splicing index</Tx>
      <Tx x={537} y={434} s={10.5} w={700}>intron groups analyzed in direct RNA-seq (N=63)</Tx>
      <Tx x={465} y={449} s={9}>poly(A)-selected</Tx>
      <Tx x={613} y={449} s={9}>rRNA–depleted</Tx>
      {dIntronTypes.map((n, i) => (
        <React.Fragment key={n}>
          <BoxKey x={700} y={475 + i * 16.3} w={12} h={10} fill={dTypeColors[i]} stroke="#333" whisk="#555" />
          {i < 4 ? (
            <Tx x={716} y={475 + i * 16.3} s={9.5} a="l">{n}</Tx>
          ) : (
            <>
              <Tx x={716} y={540} s={9.5} a="l">downstream</Tx>
              <Tx x={716} y={552} s={9.5} a="l">intron</Tx>
            </>
          )}
        </React.Fragment>
      ))}

      {/* ===== Text: E ===== */}
      <Tx x={7} y={648} s={12}>E</Tx>
      {/* PKM */}
      <Tx x={155} y={677} s={9.5} it>PKM</Tx>
      <Tx x={109} y={734} s={9.5}>isoform #1</Tx>
      <Tx x={206} y={734} s={9.5}>isoform #2</Tx>
      <Tx x={39} y={800} s={9.5} rot>new intron excised</Tx>
      <Tx x={158} y={879} s={9.5}>number of excised introns</Tx>
      <Tx x={63} y={750} s={8.5} a="l" c={COL_D9}>Day 9</Tx>
      <Tx x={162} y={750} s={8.5} a="l" c={COL_D9}>Day 9</Tx>
      <Tx x={63} y={810} s={8.5} a="l" c={COL_D14}>Day 14</Tx>
      <Tx x={162} y={810} s={8.5} a="l" c={COL_D14}>Day 14</Tx>
      <Tx x={259} y={757} s={9.5} w={700} a="l">PSI (isoform #2)</Tx>
      <Tx x={259} y={771} s={9.5} a="l" c={COL_D9}>Day 9: {pkmPsi[0].toFixed(3)}</Tx>
      <Tx x={259} y={785} s={9.5} a="l" c={COL_D14}>Day 14: {pkmPsi[1].toFixed(3)}</Tx>

      {/* ACTN4 */}
      <Tx x={553} y={678} s={9.5} it>ACTN4</Tx>
      <Tx x={673} y={682} s={9.5} w={700} a="l">PSI (isoform #2)</Tx>
      <Tx x={673} y={696} s={9.5} a="l" c={COL_D9}>Day 9: {actn4Psi[0].toFixed(3)}</Tx>
      <Tx x={673} y={710} s={9.5} a="l" c={COL_D14}>Day 14: {actn4Psi[1].toFixed(3)}</Tx>
      <Tx x={464} y={731} s={9.5}>isoform #1</Tx>
      <Tx x={591} y={731} s={9.5}>isoform #2</Tx>
      <Tx x={719} y={731} s={9.5}>isoform #1</Tx>
      <Tx x={372} y={767} s={9.5} rot>new intron</Tx>
      <Tx x={385} y={767} s={9.5} rot>excised</Tx>
      <Tx x={593} y={815} s={9.5}>number of excised introns</Tx>
      <Tx x={513} y={786} s={8.5} a="r" c={COL_D9}>Day 9</Tx>
      <Tx x={639} y={786} s={8.5} a="r" c={COL_D9}>Day 9</Tx>
      <Tx x={767} y={786} s={8.5} a="r" c={COL_D14}>Day 14</Tx>

      {/* FYN */}
      <Tx x={573} y={847} s={9.5} it>FYN</Tx>
      <Tx x={673} y={849} s={9.5} w={700} a="l">PSI (isoform #2)</Tx>
      <Tx x={673} y={863} s={9.5} a="l" c={COL_D9}>Day 9: {fynPsi[0].toFixed(3)}</Tx>
      <Tx x={673} y={878} s={9.5} a="l" c={COL_D14}>Day 14: {fynPsi[1].toFixed(3)}</Tx>
      <Tx x={464} y={899} s={9.5}>isoform #1</Tx>
      <Tx x={591} y={899} s={9.5}>isoform #2</Tx>
      <Tx x={719} y={899} s={9.5}>isoform #1</Tx>
      <Tx x={372} y={935} s={9.5} rot>new intron</Tx>
      <Tx x={385} y={935} s={9.5} rot>excised</Tx>
      <Tx x={593} y={986} s={9.5}>number of excised introns</Tx>
      <Tx x={514} y={915} s={8.5} a="r" c={COL_D9}>Day 9</Tx>
      <Tx x={639} y={915} s={8.5} a="r" c={COL_D9}>Day 9</Tx>
      <Tx x={767} y={915} s={8.5} a="r" c={COL_D14}>Day 14</Tx>

      {/* MEAF6 */}
      <Tx x={155} y={911} s={9.5} it>MEAF6</Tx>
      <Tx x={113} y={952} s={9.5}>isoform #1</Tx>
      <Tx x={209} y={952} s={9.5}>isoform #2</Tx>
      <Tx x={28} y={988} s={9.5} rot>new intron</Tx>
      <Tx x={41} y={988} s={9.5} rot>excised</Tx>
      <Tx x={158} y={1034} s={9.5}>number of excised introns</Tx>
      <Tx x={148} y={969} s={8.5} a="r" c={COL_D9}>Day 9</Tx>
      <Tx x={163} y={969} s={8.5} a="l" c={COL_D14}>Day 14</Tx>
      <Tx x={259} y={973} s={9.5} w={700} a="l">PSI (isoform #2)</Tx>
      <Tx x={259} y={988} s={9.5} a="l" c={COL_D9}>Day 9: {meaf6Psi[0].toFixed(3)}</Tx>
      <Tx x={259} y={1001} s={9.5} a="l" c={COL_D14}>Day 14: {meaf6Psi[1].toFixed(3)}</Tx>

      {/* legend */}
      <Tx x={365} y={1013} s={9} w={700} a="l">splicing order rank</Tx>
      <div style={{ position: 'absolute', left: 398, top: 1024, width: 20, height: 14, background: '#000' }} />
      <Tx x={426} y={1032} s={9} a="l">highest</Tx>
      <div style={{ position: 'absolute', left: 472, top: 1031, width: 18, height: 2, background: '#d0d0d0' }} />
      <Tx x={497} y={1032} s={9} a="l">lowest</Tx>
    </div>
  );
}
